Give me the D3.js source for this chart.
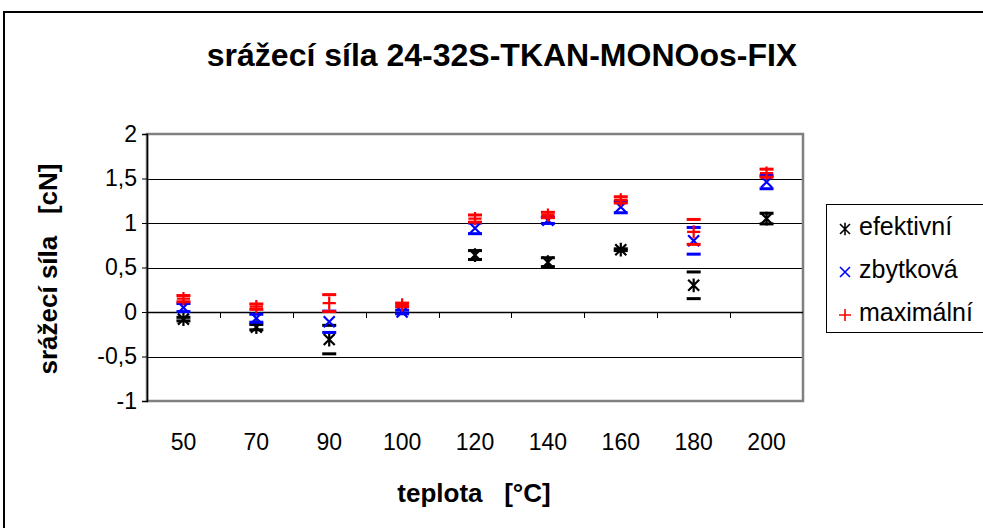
<!DOCTYPE html>
<html>
<head>
<meta charset="utf-8">
<script src="https://cdn.jsdelivr.net/npm/d3@7"></script>
<style>
  html, body { margin: 0; padding: 0; background: #fff; }
  svg { display: block; font-family: "Liberation Sans", Arial, sans-serif; }
  text { white-space: pre; }
</style>
</head>
<body>
<svg id="chart" width="983" height="528"></svg>
<script>
// Temperatures (categories) and shrink force measurements [cN]
const teploty = ["50", "70", "90", "100", "120", "140", "160", "180", "200"];

const efektivni     = [-0.08, -0.17, -0.31, null, 0.64, 0.56, 0.70, 0.30, 1.05];
const efektivniOdch = [0.02, 0.03, 0.16, 0, 0.05, 0.05, 0.01, 0.15, 0.06];

const zbytkova      = [0.05, -0.07, -0.11, 0.00, 0.94, 1.03, 1.18, 0.80, 1.46];
const zbytkovaOdch  = [0.045, 0.045, 0.12, 0.02, 0.06, 0.035, 0.065, 0.15, 0.075];

const maximalni     = [0.15, 0.06, 0.10, 0.08, 1.05, 1.09, 1.26, 0.90, 1.56];
const maximalniOdch = [0.035, 0.03, 0.095, 0.02, 0.04, 0.03, 0.035, 0.14, 0.045];

const yTicks = [-1, -0.5, 0, 0.5, 1, 1.5, 2];

const series = [
  { name: "efektivní", values: efektivni, err: efektivniOdch, color: "#000000", shape: "asterisk" },
  { name: "zbytková",  values: zbytkova,  err: zbytkovaOdch,  color: "#0000ff", shape: "cross" },
  { name: "maximální", values: maximalni, err: maximalniOdch, color: "#ff0000", shape: "plus" }
];

const FONT = "Liberation Sans, Arial, sans-serif";
const svg = d3.select("#chart");
const plot = { left: 147, right: 803, top: 134, bottom: 401 };

// outer chart frame
svg.append("rect")
  .attr("x", 4).attr("y", 12).attr("width", 1100).attr("height", 600)
  .attr("fill", "#fff").attr("stroke", "#000").attr("stroke-width", 2);

const x = d3.scaleBand().domain(teploty).range([plot.left, plot.right]).padding(0);
const y = d3.scaleLinear().domain([-1, 2]).range([plot.bottom, plot.top]);
const fmt = v => String(v).replace(".", ",");

// horizontal gridlines
svg.append("g")
  .selectAll("line").data(yTicks.filter(v => v > -1 && v < 2)).join("line")
  .attr("x1", plot.left).attr("x2", plot.right)
  .attr("y1", d => Math.round(y(d)) + 0.5).attr("y2", d => Math.round(y(d)) + 0.5)
  .attr("stroke", "#000").attr("stroke-width", 1);

// plot area border
svg.append("rect")
  .attr("x", plot.left).attr("y", plot.top)
  .attr("width", plot.right - plot.left).attr("height", plot.bottom - plot.top)
  .attr("fill", "none").attr("stroke", "#808080").attr("stroke-width", 2.5);

// y axis
const yAxis = d3.axisLeft(y).tickValues(yTicks).tickFormat(fmt).tickSize(5).tickPadding(5);
const gy = svg.append("g").attr("transform", `translate(${plot.left},0)`).call(yAxis);
gy.select(".domain").attr("stroke", "#000").attr("stroke-width", 1.5);
gy.selectAll(".tick line").attr("stroke", "#000");
gy.selectAll(".tick text").attr("font-size", 23).attr("fill", "#000").attr("font-family", FONT);

// x axis crossing at zero, ticks between categories
const boundaries = teploty.slice(1).map(t => x(t));
const gx = svg.append("g");
gx.append("line")
  .attr("x1", plot.left).attr("x2", plot.right)
  .attr("y1", Math.round(y(0)) + 0.5).attr("y2", Math.round(y(0)) + 0.5)
  .attr("stroke", "#000").attr("stroke-width", 1.5);
gx.selectAll("line.tk").data(boundaries).join("line").attr("class", "tk")
  .attr("x1", d => Math.round(d) + 0.5).attr("x2", d => Math.round(d) + 0.5)
  .attr("y1", y(0)).attr("y2", y(0) + 6)
  .attr("stroke", "#000").attr("stroke-width", 1);

// category labels along the bottom
const xAxis = d3.axisBottom(x).tickSize(0).tickPadding(0);
const gxl = svg.append("g").attr("transform", `translate(0,450)`).call(xAxis);
gxl.select(".domain").remove();
gxl.selectAll(".tick text").attr("dy", 0).attr("font-size", 23).attr("fill", "#000").attr("font-family", FONT);

// marker shapes
function markerPath(shape, r) {
  const p = d3.path();
  if (shape === "asterisk") {
    p.moveTo(-r, -r); p.lineTo(r, r);
    p.moveTo(-r, r); p.lineTo(r, -r);
    p.moveTo(0, -r * 1.25); p.lineTo(0, r * 1.25);
  } else if (shape === "cross") {
    p.moveTo(-r, -r); p.lineTo(r, r);
    p.moveTo(-r, r); p.lineTo(r, -r);
  } else {
    p.moveTo(-r * 1.2, 0); p.lineTo(r * 1.2, 0);
    p.moveTo(0, -r * 1.2); p.lineTo(0, r * 1.2);
  }
  return p.toString();
}

// series: min/max dashes plus the value marker
series.forEach(s => {
  const pts = teploty.map((t, i) => ({ t, v: s.values[i], e: s.err[i] })).filter(d => d.v !== null);
  const g = svg.append("g");
  g.selectAll("rect.dash").data(pts.flatMap(d => [d.v - d.e, d.v + d.e].map(v => ({ t: d.t, v }))))
    .join("rect").attr("class", "dash")
    .attr("x", d => x(d.t) + x.bandwidth() / 2 - 7)
    .attr("y", d => y(d.v) - 1.5)
    .attr("width", 14).attr("height", 3)
    .attr("fill", s.color);
  g.selectAll("path").data(pts).join("path")
    .attr("transform", d => `translate(${x(d.t) + x.bandwidth() / 2},${y(d.v)})`)
    .attr("d", markerPath(s.shape, 5.5))
    .attr("fill", "none").attr("stroke", s.color).attr("stroke-width", 2.2);
});

// title
svg.append("text")
  .attr("x", 502).attr("y", 66).attr("text-anchor", "middle")
  .attr("font-size", 32).attr("font-weight", "bold").attr("fill", "#000")
  .text("srážecí síla 24-32S-TKAN-MONOos-FIX");

// axis titles
svg.append("text")
  .attr("x", 474).attr("y", 502).attr("text-anchor", "middle")
  .attr("font-size", 26).attr("font-weight", "bold").attr("fill", "#000")
  .text("teplota   [°C]");
svg.append("text")
  .attr("transform", "translate(57,269) rotate(-90)").attr("text-anchor", "middle")
  .attr("font-size", 26).attr("font-weight", "bold").attr("fill", "#000")
  .text("srážecí síla   [cN]");

// legend
const lg = svg.append("g");
lg.append("rect").attr("x", 826.5).attr("y", 204.5).attr("width", 200).attr("height", 128)
  .attr("fill", "#fff").attr("stroke", "#000").attr("stroke-width", 1);
series.forEach((s, i) => {
  const cy = 227 + i * 43;
  lg.append("path").attr("transform", `translate(845,${cy + 2})`)
    .attr("d", markerPath(s.shape, 5))
    .attr("fill", "none").attr("stroke", s.color).attr("stroke-width", 1.6);
  lg.append("text").attr("x", 859).attr("y", cy + 8)
    .attr("font-size", 25).attr("fill", "#000").text(s.name);
});
</script>
</body>
</html>
